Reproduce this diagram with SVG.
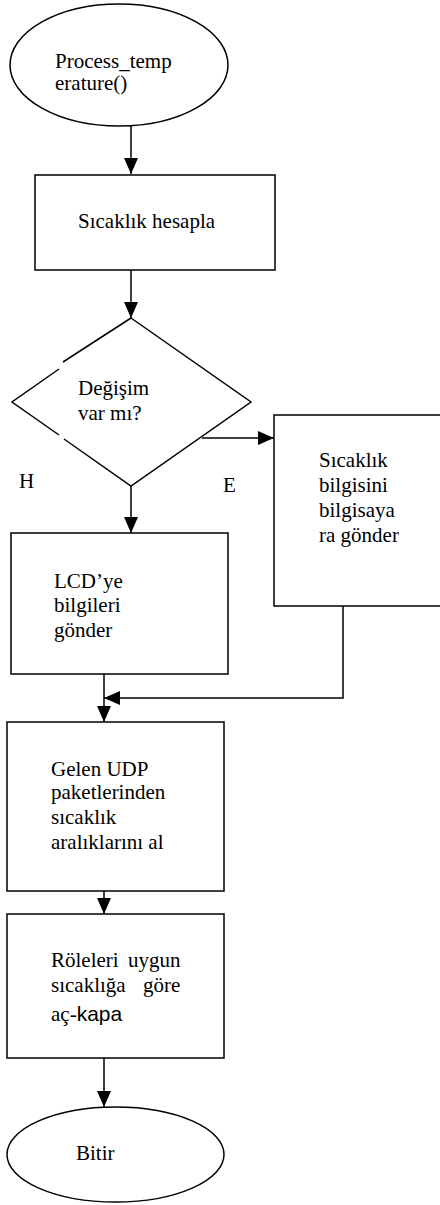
<svg xmlns="http://www.w3.org/2000/svg" width="440" height="1205" viewBox="0 0 440 1205">
<style>
.s{fill:#fff;stroke:#000;stroke-width:1.5}
.l{fill:none;stroke:#000;stroke-width:1.5}
text{font-family:"Liberation Serif","Times New Roman",serif;font-size:21px;fill:#000}
.sans{font-family:"Liberation Sans",Arial,sans-serif}
</style>
<defs>
<marker id="ahb" markerWidth="16" markerHeight="14" refX="16" refY="7" orient="auto" markerUnits="userSpaceOnUse">
<path d="M0,0 L16,7 L0,14 Z" fill="#000"/>
</marker>
</defs>
<rect width="440" height="1205" fill="#fff"/>
<g id="connectors">
<line class="l" x1="131" y1="126" x2="131" y2="174" marker-end="url(#ahb)"/>
<line class="l" x1="131" y1="270" x2="131" y2="318" marker-end="url(#ahb)"/>
<line class="l" x1="202" y1="438" x2="274" y2="438" marker-end="url(#ahb)"/>
<line class="l" x1="131" y1="486" x2="131" y2="533" marker-end="url(#ahb)"/>
<polyline class="l" points="343,605 343,698 104,698" marker-end="url(#ahb)"/>
<line class="l" x1="104" y1="674" x2="104" y2="722" marker-end="url(#ahb)"/>
<line class="l" x1="104" y1="891" x2="104" y2="914" marker-end="url(#ahb)"/>
<line class="l" x1="104" y1="1058" x2="104" y2="1107" marker-end="url(#ahb)"/>
</g>
<g id="start">
<ellipse class="s" cx="119" cy="65" rx="109" ry="61"/>
<text x="55" y="68">Process_temp</text>
<text x="55" y="90">erature()</text>
</g>
<g id="calc">
<rect class="s" x="35" y="175" width="240" height="95"/>
<text x="78" y="228">Sıcaklık hesapla</text>
</g>
<g id="decision">
<path class="l" d="M131,318 L251,402 L131,486 L64,439 M59,435 L12,402 L59,369 M63,362 L131,318"/>
<text x="78" y="395">Değişim</text>
<text x="78" y="420">var mı?</text>
</g>
<g id="labels">
<text x="19" y="488">H</text>
<text x="223" y="492">E</text>
</g>
<g id="send-pc">
<rect class="s" x="274" y="415" width="180" height="191"/>
<text x="319" y="467">Sıcaklık</text>
<text x="319" y="492">bilgisini</text>
<text x="319" y="517">bilgisaya</text>
<text x="319" y="542">ra gönder</text>
</g>
<g id="lcd">
<rect class="s" x="11" y="533" width="217" height="141"/>
<text x="54" y="588">LCD’ye</text>
<text x="54" y="612">bilgileri</text>
<text x="54" y="637">gönder</text>
</g>
<g id="udp">
<rect class="s" x="7" y="722" width="217" height="169"/>
<text x="51" y="776">Gelen UDP</text>
<text x="51" y="799">paketlerinden</text>
<text x="51" y="824">sıcaklık</text>
<text x="51" y="849">aralıklarını al</text>
</g>
<g id="relay">
<rect class="s" x="7" y="914" width="217" height="144"/>
<text x="51" y="967">Röleleri</text>
<text x="128" y="967">uygun</text>
<text x="51" y="992">sıcaklığa</text>
<text x="143" y="992">göre</text>
<text x="51" y="1021">aç-<tspan class="sans">kapa</tspan></text>
</g>
<g id="end">
<ellipse class="s" cx="115.5" cy="1154.5" rx="108.5" ry="47.5"/>
<text x="76" y="1160">Bitir</text>
</g>
</svg>
